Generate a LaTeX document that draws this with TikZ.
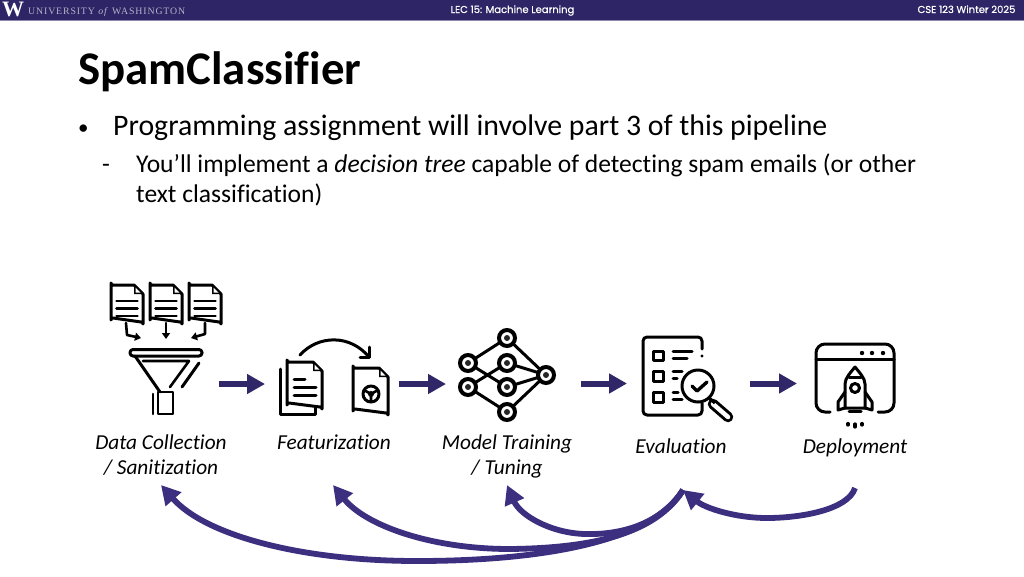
\documentclass[tikz,border=0pt]{standalone}
\usepackage{fontspec}
\setmainfont[Ligatures=NoCommon,RawFeature={-liga}]{Carlito}
\newfontfamily\hdr[FakeBold=0.5]{Poppins}
\newfontfamily\uw[LetterSpace=9]{Liberation Serif}
\newfontfamily\uwb{Liberation Serif}
\usetikzlibrary{arrows.meta}
\definecolor{uwbar}{HTML}{2E2566}
\definecolor{flow}{HTML}{3D2F7F}
\definecolor{arr}{HTML}{2F2768}
\tikzset{
  ink/.style={draw=black,line width=3pt,line cap=round,line join=round,fill=none},
  thinink/.style={draw=black,line width=2.6pt,line cap=round,line join=round},
  tip/.style={-{Triangle[length=6pt,width=8pt]}},
  blockarrow/.style={draw=arr,line width=6pt,-{Triangle[length=18pt,width=19pt]}},
  flowarrow/.style={draw=flow,line width=5.8pt,-{Triangle[length=19pt,width=20pt]}},
  lab/.style={font=\fontsize{21.3}{25}\selectfont\itshape,align=center,text=black,inner sep=0pt},
  txt/.style={anchor=base west,inner sep=0pt,text=black},
  hd/.style={anchor=base,inner sep=0pt,text=white,font=\hdr\fontsize{10}{12}\selectfont},
}
\newcommand{\docpage}[4]{% x y w h
  \draw[ink] (#1+#3-9,#2) -- (#1+2,#2) arc[start angle=90,end angle=180,radius=2] -- (#1,#2+#4-2) arc[start angle=180,end angle=270,radius=2] -- (#1+#3-2,#2+#4) arc[start angle=270,end angle=360,radius=2] -- (#1+#3,#2+9) -- cycle;
  \fill[black] (#1+#3-9,#2) -- (#1+#3-9,#2+9) -- (#1+#3,#2+9) -- cycle;
  \fill[white] (#1+#3-7.5,#2+2.5) -- (#1+#3-7.5,#2+7.5) -- (#1+#3-2.5,#2+7.5) -- cycle;
}
\begin{document}
\begin{tikzpicture}[x=1pt,y=-1pt]
\useasboundingbox (0,0) rectangle (1024,576);
\fill[white] (0,0) rectangle (1024,576);
\fill[uwbar] (0,0) rectangle (1024,19.5);
\fill[uwbar!55] (0,19.5) rectangle (1024,20.5);
% header
\node[anchor=base west,inner sep=0pt,text=white,font=\uwb\bfseries\fontsize{22}{22}\selectfont] (w) at (2,16.5) {W};
\node[anchor=base west,inner sep=0pt,text=white!65!uwbar,font=\uw\fontsize{9.8}{12}\selectfont] (uw) at (28,14) {UNIVERSITY \textit{of} WASHINGTON};
\node[hd] (lec) at (512.5,13) {LEC 15: Machine Learning};
\node[hd] (cse) at (966.5,13) {CSE 123 Winter 2025};
% text
\node[txt,font=\fontsize{46.8}{50}\selectfont\bfseries] (title) at (78,84) {SpamClassifier};
\node[txt,font=\fontsize{21}{32}\selectfont] (b1) at (78,134) {•};
\node[txt,font=\fontsize{29.8}{32}\selectfont] (l1) at (113,135) {Programming assignment will involve part 3 of this pipeline};
\node[txt,font=\fontsize{25.55}{30}\selectfont] (b2) at (102,172) {-};
\node[txt,font=\fontsize{25.55}{30}\selectfont] (l2) at (136,172) {You’ll implement a \textit{decision tree} capable of detecting spam emails (or other};
\node[txt,font=\fontsize{25.55}{30}\selectfont] (l3) at (136,202.5) {text classification)};
% labels
\node[lab] (lab1) at (161,455.3) {Data Collection\\/ Sanitization};
\node[lab] (lab2) at (334,442) {Featurization};
\node[lab] (lab3) at (507,456.3) {Model Training\\/ Tuning};
\node[lab] (lab4) at (681,446.5) {Evaluation};
\node[lab] (lab5) at (855,447.5) {Deployment};
% funnel group: documents
\docpage{111}{285}{32}{37}
\docpage{150}{285}{32}{37}
\docpage{189}{285}{32}{37}
\foreach \x in {111,150,189}{
  \foreach \y in {301,308.5,316}{\draw[thinink] (\x+5.5,\y) -- (\x+26.5,\y);}
}
\draw[thinink,tip] (126,323) -- (127,335) -- (141,338);
\draw[thinink,tip] (166,323) -- (166,339);
\draw[thinink,tip] (205,323) -- (205,334) -- (191,338);
\draw[ink,rounded corners=3pt] (130,349.5) rectangle (202,356);
\draw[ink] (135,356) -- (160,392);
\draw[thinink] (158,392) rectangle (173,414);
\draw[thinink] (153,394) -- (153,414);
\draw[thinink] (143,361) -- (189,361) -- (170,387);
\draw[ink] (199,363) -- (182,387);
% featurization
\draw[ink] (280,369) -- (280,414) -- (315,414) -- (315,407);
\docpage{287}{362}{35}{45}
\draw[ink] (294,379) -- (305,379);
\draw[ink] (294,387) -- (316,387);
\draw[ink] (294,395) -- (316,395);
\draw[ink] (300,355) .. controls (318,335) and (350,334) .. (369,357);
\draw[ink] (369,347) -- (369,357) -- (360,357);
\docpage{353}{368}{35}{45}
\draw[ink] (371,394) circle[radius=8];
\fill (371,394) circle[radius=3];
\draw[thinink] (371,394) -- (371,402) (371,394) -- (364,390) (371,394) -- (378,390);
% network
\coordinate (na) at (507,338);
\coordinate (nb) at (468,363);
\coordinate (nc) at (507,363);
\coordinate (nd) at (468,387);
\coordinate (ne) at (507,387);
\coordinate (nf) at (507,412);
\coordinate (ng) at (546,375);
\foreach \p/\q in {na/nb,na/ng,nb/ne,nd/nc,nd/nf,nc/ng,ne/ng,nf/ng}{\draw[draw=black,line width=3pt] (\p) -- (\q);}
\foreach \p in {na,nb,nc,nd,ne,nf,ng}{
  \fill[white] (\p) circle[radius=8];
  \draw[black,line width=4pt] (\p) circle[radius=8];
  \fill[black!85] (\p) circle[radius=3];
}
% evaluation
\draw[ink,rounded corners=4pt] (702,349) -- (702,337) -- (643,337) -- (643,415) -- (702,415) -- (702,403);
\fill (702,356) circle[radius=1.6];
\draw[ink] (653,351) rectangle (663,360);
\draw[ink] (653,371) rectangle (663,381);
\draw[ink] (653,392) rectangle (663,402);
\draw[ink] (673,351) -- (692,351) (673,358) -- (687,358) (673,371) -- (682,371) (673,378) -- (677,378) (673,392) -- (678,392) (673,399) -- (682,399);
\draw[draw=black,line width=10.5pt,line cap=round] (713,404) -- (728,417);
\draw[draw=white,line width=4.5pt,line cap=round] (713,404) -- (728,417);
\draw[ink,fill=white] (698,386) circle[radius=16];
\draw[draw=black,line width=3.2pt] (709,398) -- (715,403);
\draw[draw=black,line width=3.4pt,line cap=round,line join=round] (692,386) -- (697,391) -- (707,382);
% deployment
\draw[ink,rounded corners=9pt] (830,412) -- (816,412) -- (816,344) -- (894,344) -- (894,412) -- (878,412);
\draw[ink] (816,359) -- (894,359);
\fill (862,353) circle[radius=2.2] (872,353) circle[radius=2.2] (883,353) circle[radius=2.2];
\draw[ink] (845,408) -- (845,384) .. controls (845,378) and (851,372) .. (855,367) .. controls (859,372) and (865,378) .. (865,384) -- (865,408) -- cycle;
\draw[ink] (849,377) -- (861,377);
\draw[ink] (855,388) circle[radius=4.5];
\draw[ink] (845,392) -- (838,402) -- (838,410) -- (845,408);
\draw[ink] (865,392) -- (872,402) -- (872,410) -- (865,408);
\draw[ink] (849,411) -- (861,411);
\draw[draw=black,line width=3.2pt,line cap=round] (848,423.5) -- (848,425) (855,424) -- (855,427) (862,423.5) -- (862,425);
% block arrows
\coordinate (a1s) at (219,384); \coordinate (a1e) at (265,384);
\coordinate (a2s) at (399,384); \coordinate (a2e) at (446,384);
\coordinate (a3s) at (581,383.5); \coordinate (a3e) at (627,383.5);
\coordinate (a4s) at (750,383.5); \coordinate (a4e) at (797,383.5);
\foreach \s/\e in {a1s/a1e,a2s/a2e,a3s/a3e,a4s/a4e}{\draw[blockarrow] (\s) -- (\e);}
% feedback curves
\coordinate (fa) at (161,485);
\coordinate (fb) at (333,485);
\coordinate (fc) at (507,485);
\coordinate (fd) at (683,490);
\coordinate (fe) at (855,488);
\coordinate (m1) at (417,561);
\coordinate (m2) at (510,549);
\coordinate (m3) at (585,534);
\coordinate (m4) at (767,518);
\draw[flowarrow] (fd) .. controls (650,545) and (530,561) .. (m1) .. controls (300,561) and (205,535) .. (fa);
\draw[flowarrow] (fd) .. controls (655,535) and (590,548) .. (m2) .. controls (430,549) and (365,525) .. (fb);
\draw[flowarrow] (fd) .. controls (660,525) and (620,535) .. (m3) .. controls (550,533) and (520,515) .. (fc);
\draw[flowarrow] (fe) .. controls (848,510) and (800,518) .. (m4) .. controls (735,518) and (705,508) .. (fd);
\end{tikzpicture}
\end{document}
